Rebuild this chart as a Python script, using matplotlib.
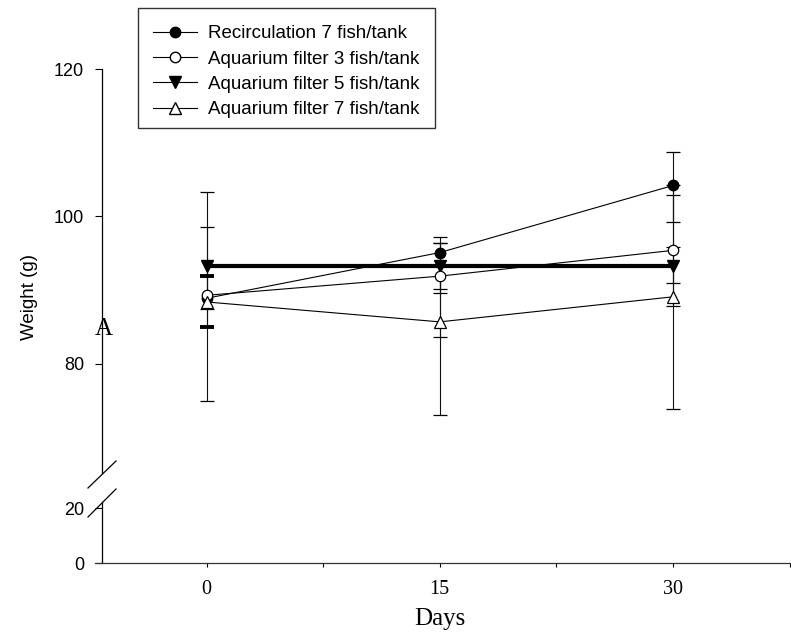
import numpy as np
import matplotlib
matplotlib.use('Agg')
import matplotlib.pyplot as plt
from matplotlib.lines import Line2D
from matplotlib.patches import Rectangle

# ---------------- data ----------------
days = [0, 15, 30]
recirc7 = [88.9, 95.1, 104.2]
aq3 = [89.3, 91.9, 95.4]
aq5 = [93.3, 93.3, 93.3]
aq7 = [88.4, 85.7, 89.1]

recirc7_lo = [75.0, 89.6, 99.2]
recirc7_hi = [103.3, 96.4, 108.7]
aq3_lo = [87.5, 83.7, 87.8]
aq3_hi = [98.55, 96.4, 102.9]
aq5_lo = [85.0, 90.1, 91.0]
aq5_hi = [91.9, 93.3, 95.9]
aq7_lo = [np.nan, 73.0, 73.9]
aq7_hi = [np.nan, 97.2, 104.3]

labels = ["Recirculation 7 fish/tank", "Aquarium filter 3 fish/tank",
          "Aquarium filter 5 fish/tank", "Aquarium filter 7 fish/tank"]
xticks_all = [0, 7.5, 15, 22.5, 30, 37.5]
xtick_labels = ["0", "", "15", "", "30", ""]
yticks_top = [80, 100, 120]
yticks_bot = [0, 20]

# ---------------- layout helpers ----------------
W, H = 791, 640
fig = plt.figure(figsize=(W / 100, H / 100), dpi=100)


def fx(px):
    return px / W


def fy(py):
    return 1 - py / H


XLIM = (-7.17, 37.52)
YSPINE = -6.72

ax_top = fig.add_axes([fx(95), fy(473), fx(790) - fx(95), fy(69) - fy(473)])
ax_bot = fig.add_axes([fx(95), fy(563), fx(790) - fx(95), fy(502) - fy(563)])

for ax in (ax_top, ax_bot):
    ax.set_xlim(*XLIM)
    ax.spines['top'].set_visible(False)
    ax.spines['right'].set_visible(False)
    ax.spines['left'].set_position(('data', YSPINE))
    ax.spines['left'].set_linewidth(0.9)
    ax.spines['bottom'].set_linewidth(0.9)
    ax.spines['bottom'].set_color('#333333')
    ax.patch.set_alpha(0)
    ax.tick_params(axis='y', direction='out', length=5, width=0.8, pad=8,
                   labelsize=13)

ax_top.spines['bottom'].set_visible(False)
ax_top.set_xticks([])
ax_top.set_ylim(65.2, 120)
ax_top.set_yticks(yticks_top)
ax_top.set_yticklabels([str(v) for v in yticks_top], family='Liberation Sans', fontsize=13)

ax_bot.set_ylim(0, 22.2)
ax_bot.set_yticks(yticks_bot)
ax_bot.set_yticklabels([str(v) for v in yticks_bot], family='Liberation Sans', fontsize=13)
ax_bot.set_xticks(xticks_all)
ax_bot.set_xticklabels(xtick_labels, family='Liberation Serif', fontsize=14.5)
ax_bot.tick_params(axis='x', direction='out', length=3, width=0.8, pad=9)


# ---------------- error bars ----------------
def draw_err(ax, x, lo, hi, cap_lws):
    for xi, l, h, clw in zip(x, lo, hi, cap_lws):
        if np.isnan(l) or np.isnan(h):
            continue
        ax.vlines(xi, l, h, color='#111111', lw=0.8, zorder=1)
        ax.plot([xi, xi], [l, h], ls='none', marker='_', ms=9.5, mew=clw,
                color='black', zorder=1)


draw_err(ax_top, days, recirc7_lo, recirc7_hi, [0.9, 0.9, 0.9])
draw_err(ax_top, days, aq3_lo, aq3_hi, [0.9, 0.9, 0.9])
draw_err(ax_top, days, aq5_lo, aq5_hi, [2.8, 0.9, 0.9])
draw_err(ax_top, days, aq7_lo, aq7_hi, [0.9, 0.9, 0.9])

# ---------------- series ----------------
ax_top.plot(days, recirc7, color='black', lw=0.8, marker='o', ms=7.5,
            mfc='black', mec='black', zorder=3)
ax_top.plot(days, aq5, color='black', lw=3, marker='v', ms=8.5,
            mfc='black', mec='black', zorder=3)
ax_top.plot(days, aq3, color='black', lw=0.8, marker='o', ms=7.5,
            mfc='white', mec='black', mew=0.9, zorder=4)
ax_top.plot(days, aq7, color='black', lw=0.8, marker='^', ms=8.5,
            mfc='white', mec='black', mew=0.9, zorder=5)

# ---------------- axis break marks ----------------
fig.add_artist(Line2D([fx(88), fx(116)], [fy(488), fy(461)],
                      transform=fig.transFigure, color='black', lw=0.9))
fig.add_artist(Line2D([fx(88), fx(116)], [fy(517), fy(489)],
                      transform=fig.transFigure, color='black', lw=0.9))

# ---------------- texts ----------------
fig.text(fx(30), fy(297), "Weight (g)", rotation=90, ha='center', va='center',
         fontsize=13.5, family='Liberation Sans')
fig.text(fx(440), fy(619), "Days", ha='center', va='center', fontsize=18,
         family='Liberation Serif')
fig.text(fx(104), fy(329), "A", ha='center', va='center', fontsize=18,
         family='Liberation Serif')

# ---------------- legend ----------------
fig.add_artist(Rectangle((fx(138), fy(128)), fx(435) - fx(138), fy(8) - fy(128),
                         transform=fig.transFigure, fill=False,
                         edgecolor='#333333', lw=1.0))
handles = [
    Line2D([], [], color='black', lw=0.8, marker='o', ms=7.5, mfc='black', mec='black'),
    Line2D([], [], color='black', lw=0.8, marker='o', ms=7.5, mfc='white', mec='black'),
    Line2D([], [], color='black', lw=0.8, marker='v', ms=8.5, mfc='black', mec='black'),
    Line2D([], [], color='black', lw=0.8, marker='^', ms=8.5, mfc='white', mec='black'),
]
fig.legend(handles, labels, loc='upper left', bbox_to_anchor=(fx(153), fy(25)),
           frameon=False, borderpad=0, borderaxespad=0, handlelength=2.35,
           handletextpad=0.58, labelspacing=0.44,
           prop={'family': 'Liberation Sans', 'size': 13.5})

fig.savefig('out.png', dpi=100)
